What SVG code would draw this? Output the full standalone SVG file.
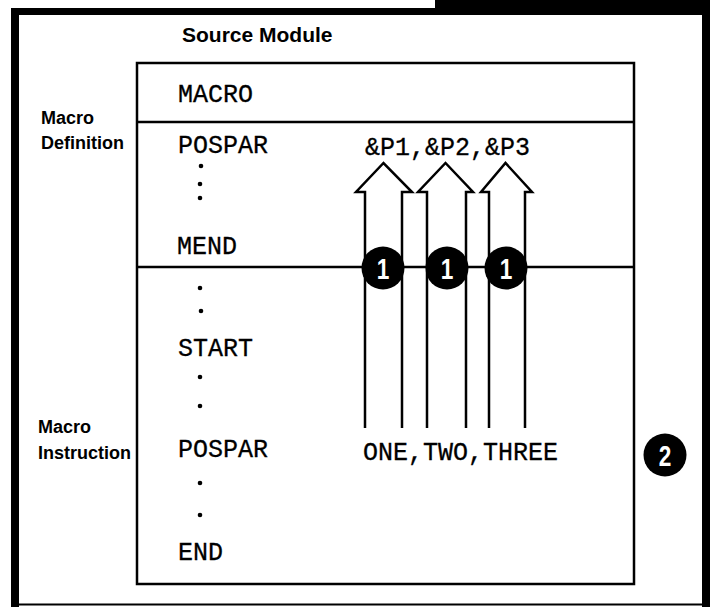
<svg xmlns="http://www.w3.org/2000/svg" width="710" height="607" viewBox="0 0 710 607">
<defs>
<style>
.lbl{font-family:"Liberation Sans",Arial,sans-serif;font-weight:bold;fill:#000}
.mono{font-family:"Liberation Mono","Courier New",monospace;font-size:25px;fill:#000;stroke:#000;stroke-width:0.3}
.ln{stroke:#000;stroke-width:2.5;fill:none}
.arrow{fill:#fff;stroke:#000;stroke-width:2.5;stroke-linejoin:miter}
.badge{fill:#000}
.num{font-family:"Liberation Sans",Arial,sans-serif;font-weight:bold;font-size:29px;fill:#fff;text-anchor:middle}
.dot{fill:#000}
</style>
</defs>
<rect width="710" height="607" fill="#fff"/>
<g id="frame">
<rect x="435" y="0" width="275" height="15" fill="#000"/>
<rect x="11" y="8" width="699" height="7" fill="#000"/>
<rect x="11" y="8" width="8" height="599" fill="#000"/>
<rect x="702" y="0" width="8" height="607" fill="#000"/>
<line x1="11" y1="604.5" x2="702" y2="604.5" stroke="#000" stroke-width="2"/>
<text class="lbl" x="182" y="42" font-size="21">Source Module</text>
</g>
<g id="source-box">
<rect x="137" y="63" width="497" height="521" class="ln"/>
<line x1="137" y1="122" x2="634" y2="122" class="ln"/>
</g>
<g id="macro-definition">
<text class="lbl" x="41" y="124" font-size="18">Macro</text>
<text class="lbl" x="41" y="149" font-size="18">Definition</text>
<text class="mono" x="178" y="102">MACRO</text>
<text class="mono" x="178" y="153">POSPAR</text>
<circle class="dot" cx="201" cy="166" r="2.3"/>
<circle class="dot" cx="200" cy="184" r="2.3"/>
<circle class="dot" cx="200" cy="198" r="2.3"/>
<text class="mono" x="177" y="254">MEND</text>
<text class="mono" x="365" y="155">&amp;P1,&amp;P2,&amp;P3</text>
</g>
<g id="macro-instruction">
<text class="lbl" x="38" y="433" font-size="18">Macro</text>
<text class="lbl" x="38" y="459" font-size="18">Instruction</text>
<circle class="dot" cx="200" cy="288" r="2.3"/>
<circle class="dot" cx="201" cy="311" r="2.3"/>
<text class="mono" x="178" y="356">START</text>
<circle class="dot" cx="200" cy="377" r="2.3"/>
<circle class="dot" cx="200" cy="406" r="2.3"/>
<text class="mono" x="178" y="457">POSPAR</text>
<circle class="dot" cx="200" cy="483" r="2.3"/>
<circle class="dot" cx="200" cy="515" r="2.3"/>
<text class="mono" x="178" y="560">END</text>
<text class="mono" x="363" y="460">ONE,TWO,THREE</text>
</g>
<g id="connectors">
<line x1="137" y1="267" x2="634" y2="267" class="ln"/>
<path class="arrow" d="M365,428 V192 H356 L383.5,163 L412,192 H402 V428"/>
<path class="arrow" d="M427,428 V192 H418 L445.5,163 L473,192 H466 V428"/>
<path class="arrow" d="M489,428 V192 H481 L505.5,163 L532,192 H525 V428"/>
</g>
<g id="badge-1a">
<circle class="badge" cx="383" cy="268" r="21.5"/>
<text class="num" transform="translate(383,278.5) scale(0.78,1)">1</text>
</g>
<g id="badge-1b">
<circle class="badge" cx="447" cy="268" r="21.5"/>
<text class="num" transform="translate(447,278.5) scale(0.78,1)">1</text>
</g>
<g id="badge-1c">
<circle class="badge" cx="506" cy="268" r="21.5"/>
<text class="num" transform="translate(506,278.5) scale(0.78,1)">1</text>
</g>
<g id="badge-2">
<circle class="badge" cx="665" cy="455" r="21.5"/>
<text class="num" transform="translate(665,465.5) scale(0.78,1)">2</text>
</g>
</svg>
